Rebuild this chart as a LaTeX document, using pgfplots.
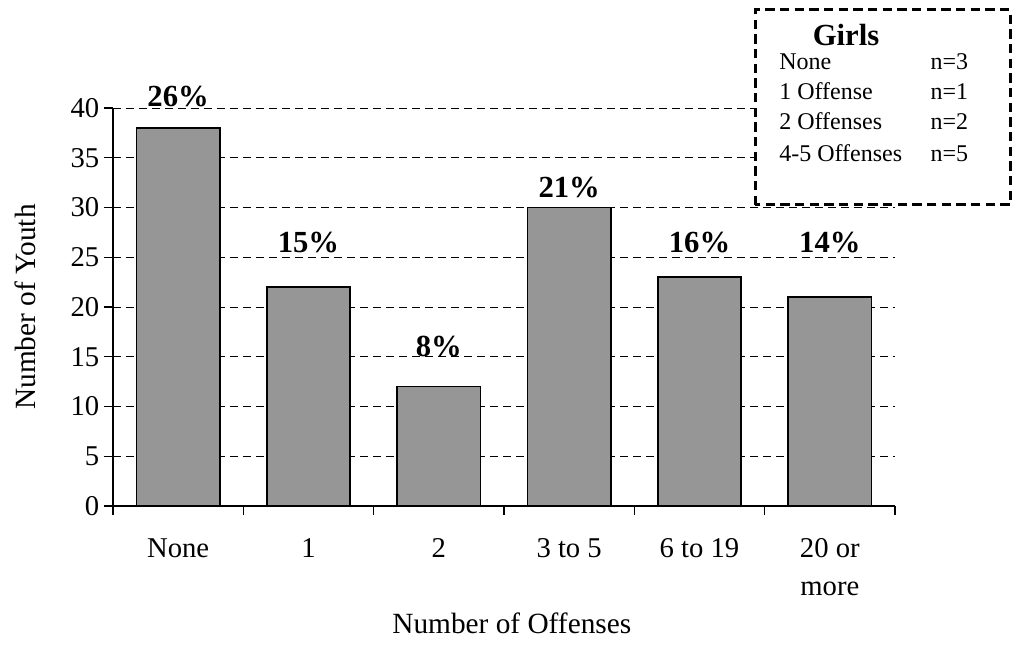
\documentclass[border=0pt]{standalone}
\usepackage{fontspec}
\setmainfont{Liberation Serif}
\usepackage{pgfplots}
\pgfplotsset{compat=1.18}
\definecolor{barfill}{RGB}{150,150,150}
\newcommand{\chartfont}{\fontsize{21.5}{28.5}\selectfont}
\begin{document}
\begin{tikzpicture}
\useasboundingbox (-84.75pt,-111.75pt) rectangle (681pt,379.5pt);
\begin{axis}[
  at={(0,0)}, anchor=south west,
  scale only axis,
  width=586.5pt, height=298.5pt,
  xmin=-0.5, xmax=5.5,
  ymin=0, ymax=40,
  axis x line*=bottom, axis y line*=left,
  axis line style={-, line width=0.8pt},
  tick align=outside, tick pos=left,
  major tick length=6.75pt, minor tick length=6.75pt,
  xtick={0,...,5},
  xticklabels={None,1,2,3 to 5,6 to 19,{20 or\\more}},
  minor xtick={-0.5,0.5,...,5.5},
  major x tick style={draw=none},
  every tick/.style={black, line width=0.8pt},
  ytick={0,5,...,40},
  ymajorgrids,
  major grid style={black, line width=0.7pt, dash pattern=on 6pt off 3.75pt},
  /pgf/number format/assume math mode=true,
  ticklabel style={font=\chartfont},
  xticklabel style={align=center, yshift=-14pt},
  xlabel={Number of Offenses},
  ylabel={Number of Youth},
  label style={font=\fontsize{22}{28.5}\selectfont},
  xlabel style={at={(axis description cs:0.51,-0.294)}, anchor=center},
  ylabel style={at={(axis description cs:-0.1125,0.5)}, anchor=center},
  clip=false,
]
\addplot[ybar, bar width=0.64, fill=barfill, draw=black, line width=1.1pt]
  coordinates {(0,38) (1,22) (2,12) (3,30) (4,23) (5,21)};
\begin{scope}[every node/.style={font=\fontsize{23}{27}\selectfont\bfseries, anchor=base}]
\node at (axis cs:0,40.1) {26\%};
\node at (axis cs:1,25.5) {15\%};
\node at (axis cs:2,15.0) {8\%};
\node at (axis cs:3,31.0) {21\%};
\node at (axis cs:4,25.5) {16\%};
\node at (axis cs:5,25.5) {14\%};
\end{scope}
\end{axis}
% text box with the counts for girls
\filldraw[fill=white, draw=black, line width=2.25pt, dash pattern=on 7pt off 4pt]
  (481.5pt,225.75pt) rectangle (672.75pt,372pt);
\node[anchor=base, font=\fontsize{23}{27}\selectfont\bfseries] at (549.75pt,345pt) {Girls};
\begin{scope}[every node/.style={anchor=base west, inner sep=0pt, font=\fontsize{18}{21}\selectfont}]
\node at (499.5pt,327pt) {None};
\node at (613pt,327pt) {n=3};
\node at (499.5pt,305pt) {1 Offense};
\node at (613pt,305pt) {n=1};
\node at (499.5pt,282pt) {2 Offenses};
\node at (613pt,282pt) {n=2};
\node at (499.5pt,258pt) {4-5 Offenses};
\node at (613pt,258pt) {n=5};
\end{scope}
\end{tikzpicture}
\end{document}
